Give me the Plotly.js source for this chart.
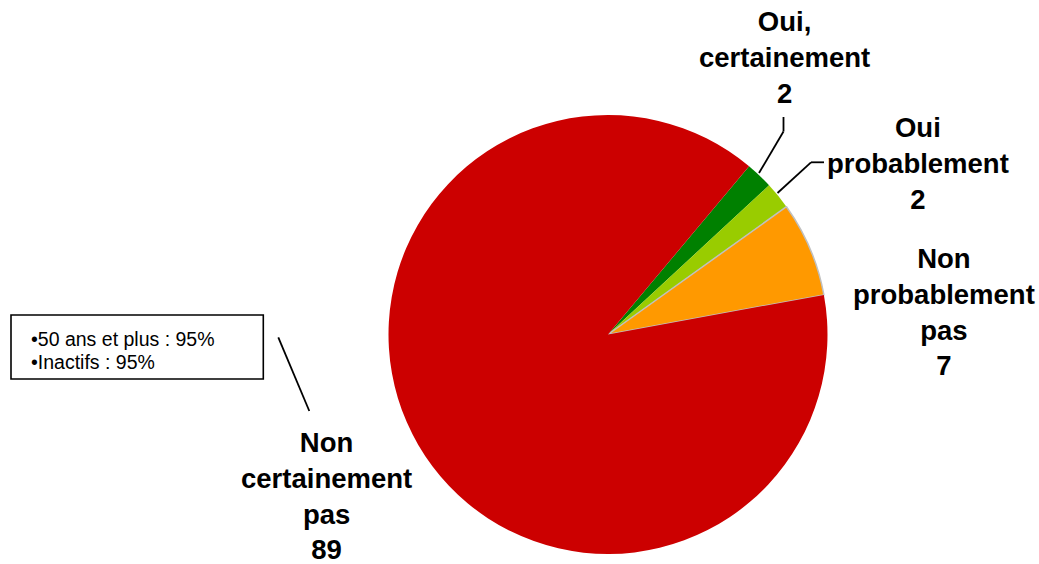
<!DOCTYPE html>
<html>
<head>
<meta charset="utf-8">
<script src="https://cdn.plot.ly/plotly-3.0.1.min.js"></script>
<style>
  html, body { margin: 0; padding: 0; background: #ffffff; }
  #chart { width: 1039px; height: 564px; }
</style>
</head>
<body>
<div id="chart"></div>
<script>
// Survey answers, in clockwise order starting after the red slice
const categories = ["Oui,<br>certainement", "Oui<br>probablement", "Non<br>probablement<br>pas", "Non<br>certainement<br>pas"];
const values = [2, 2, 7, 89];
const colors = ["#008000", "#99cc00", "#ff9900", "#cc0000"];

// Side note listing sub-group figures
const noteLines = ["•50 ans et plus : 95%", "•Inactifs : 95%"];

const W = 1039, H = 564;
const px = x => x / W;
const py = y => 1 - y / H;

// Label block centres (pixels) for each slice label
const labelPos = [
  [784, 57],
  [918, 163],
  [944, 312],
  [326, 496]
];

const trace = {
  type: "pie",
  labels: categories.map(c => c.replace(/<br>/g, " ")),
  values: values,
  sort: false,
  direction: "clockwise",
  rotation: 40,
  textinfo: "none",
  hoverinfo: "none",
  marker: {
    colors: colors,
    line: { color: ["rgba(0,0,0,0)", "rgba(0,0,0,0)", "#c0c0c0", "rgba(0,0,0,0)"], width: [0, 0, 1.5, 0] }
  },
  domain: { x: [px(388.5), px(827.5)], y: [py(554), py(115)] }
};

const labelFont = { family: "Liberation Sans, Arial, sans-serif", size: 27.5, color: "#000000" };
const noteFont = { family: "Liberation Sans, Arial, sans-serif", size: 19.5, color: "#000000" };

const annotations = categories.map((c, i) => ({
  xref: "paper", yref: "paper",
  x: px(labelPos[i][0]), y: py(labelPos[i][1]),
  xanchor: "center", yanchor: "middle",
  text: "<b>" + c + "<br>" + values[i] + "</b>",
  showarrow: false, align: "center", font: labelFont
}));

noteLines.forEach((t, i) => {
  annotations.push({
    xref: "paper", yref: "paper",
    x: px(29), y: py(339 + i * 22.5),
    xanchor: "left", yanchor: "middle",
    text: t, showarrow: false, align: "left", font: noteFont
  });
});

const seg = (x0, y0, x1, y1) => ({
  type: "line", xref: "paper", yref: "paper",
  x0: px(x0), y0: py(y0), x1: px(x1), y1: py(y1),
  line: { color: "#000000", width: 1.8 }
});

const shapes = [
  // leader lines
  seg(783.5, 117, 783.5, 131.5),
  seg(783.5, 131.5, 759, 173),
  seg(824, 162.3, 811, 162.3),
  seg(811, 162.3, 777.5, 193),
  seg(278.3, 337.3, 309.3, 411),
  // note frame
  { type: "rect", xref: "paper", yref: "paper",
    x0: px(11), y0: py(379), x1: px(263.3), y1: py(315),
    line: { color: "#000000", width: 1.6 }, fillcolor: "rgba(0,0,0,0)" }
];

const layout = {
  width: W, height: H,
  margin: { l: 0, r: 0, t: 0, b: 0 },
  paper_bgcolor: "#ffffff",
  showlegend: false,
  annotations: annotations,
  shapes: shapes
};

Plotly.newPlot("chart", [trace], layout, { staticPlot: true, displayModeBar: false });
</script>
</body>
</html>
